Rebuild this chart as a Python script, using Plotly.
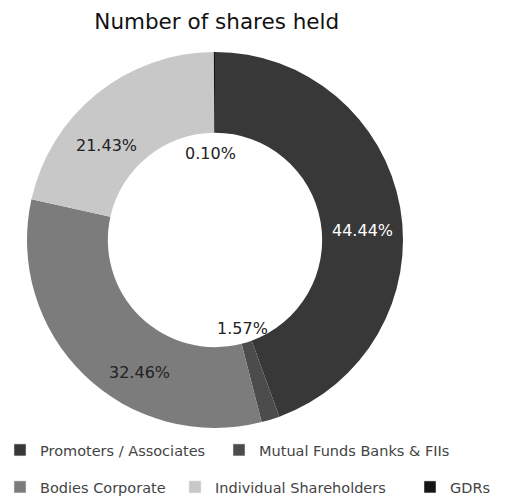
import plotly.graph_objects as go

# Shareholding pattern: number of shares held by category
categories = ["Promoters / Associates", "Mutual Funds Banks & FIIs",
              "Bodies Corporate", "Individual Shareholders", "GDRs"]
shares_pct = [44.44, 1.57, 32.46, 21.43, 0.10]
slice_colors = ["#383838", "#4c4c4c", "#7c7c7c", "#c8c8c8", "#151515"]

# each category gets its own legend box so the entries can be placed freely
legend_ids = ["legend", "legend2", "legend3", "legend4", "legend5"]
legend_pos = [(0.0, 450), (219 / 510, 450), (0.0, 487), (175 / 510, 487), (410 / 510, 487)]

# where each percentage label sits (paper coordinates) and its colour
label_xy = [(0.710, 0.537), (0.476, 0.340), (0.273, 0.251), (0.208, 0.708), (0.412, 0.692)]
label_color = ["#ffffff", "#222222", "#222222", "#222222", "#222222"]

FONT = "DejaVu Sans, sans-serif"

fig = go.Figure()
fig.add_trace(go.Pie(
    labels=categories,
    values=shares_pct,
    hole=0.57,
    sort=False,
    direction="clockwise",
    rotation=0,
    marker=dict(colors=slice_colors, line=dict(width=0)),
    textinfo="none",
    domain=dict(x=[27 / 510, 403 / 510], y=[1 - 428 / 497, 1 - 52 / 497]),
    hoverinfo="label+value",
    showlegend=False,
))

# legend-only entries mirroring the pie's slices
for name, color, lg in zip(categories, slice_colors, legend_ids):
    fig.add_trace(go.Bar(x=[None], y=[None], name=name, marker_color=color,
                         legend=lg, showlegend=True, hoverinfo="skip"))

for val, (lx, ly), col in zip(shares_pct, label_xy, label_color):
    fig.add_annotation(x=lx, y=ly, xref="paper", yref="paper",
                       xanchor="center", yanchor="middle",
                       text=f"{val:.2f}%", showarrow=False,
                       font=dict(family=FONT, size=16, color=col))

legend_style = dict(orientation="h", xanchor="left", yanchor="middle",
                    font=dict(family=FONT, size=14.5, color="#444"),
                    bgcolor="rgba(0,0,0,0)", borderwidth=0)
legends = {lg: dict(x=lx, y=1 - py / 497, **legend_style)
           for lg, (lx, py) in zip(legend_ids, legend_pos)}

fig.update_layout(
    width=510, height=497,
    margin=dict(l=0, r=0, t=0, b=0, autoexpand=False),
    paper_bgcolor="white",
    plot_bgcolor="white",
    xaxis=dict(visible=False),
    yaxis=dict(visible=False),
    title=dict(text="Number of shares held", x=0.425, xanchor="center",
               y=1 - 21 / 497, yanchor="middle",
               font=dict(family=FONT, size=21.5, color="#111")),
    **legends,
)

fig.write_html("out.html")
